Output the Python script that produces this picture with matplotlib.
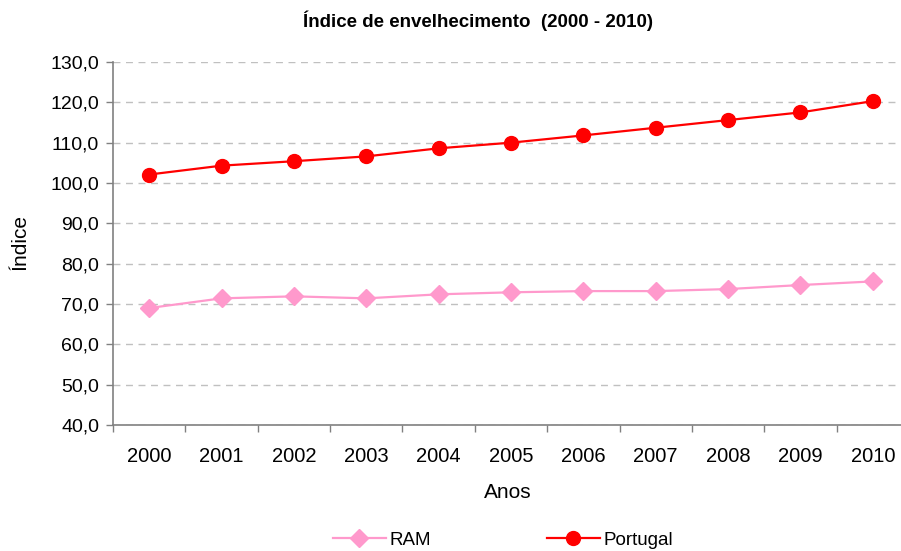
import matplotlib
matplotlib.use("Agg")
import matplotlib.pyplot as plt
from matplotlib.ticker import FuncFormatter, FixedLocator
import numpy as np

plt.rcParams['font.family'] = ['Liberation Sans', 'DejaVu Sans']

years = ['2000', '2001', '2002', '2003', '2004', '2005', '2006', '2007', '2008', '2009', '2010']
ram = [69.0, 71.4, 71.9, 71.4, 72.4, 72.9, 73.2, 73.2, 73.7, 74.7, 75.6]
portugal = [102.1, 104.3, 105.4, 106.6, 108.6, 110.0, 111.8, 113.7, 115.6, 117.5, 120.3]

title = 'Índice de envelhecimento  (2000 - 2010)'
xlabel = 'Anos'
ylabel = 'Índice'

W, H = 901, 551
fig = plt.figure(figsize=(W/100, H/100), dpi=100)
left, right, top, bottom = 113, 909, 62, 425
ax = fig.add_axes([left/W, 1-bottom/H, (right-left)/W, (bottom-top)/H])

x = np.arange(len(years))
ax.plot(x, ram, color='#FF99CC', lw=1.6, marker='D', ms=9, label='RAM', clip_on=False)
ax.plot(x, portugal, color='#FF0000', lw=1.6, marker='o', ms=10, label='Portugal', clip_on=False)

ax.set_xlim(-0.5, len(years)-0.5)
ax.set_ylim(40, 130)
ax.set_yticks(np.arange(40, 131, 10))
ax.yaxis.set_major_formatter(FuncFormatter(lambda v, p: f'{v:.1f}'.replace('.', ',')))
ax.set_xticks(x)
ax.set_xticklabels(years)
ax.xaxis.set_minor_locator(FixedLocator(np.arange(-0.5, len(years), 1.0)))
ax.tick_params(axis='x', which='major', length=0, pad=16, labelsize=14.5)
ax.tick_params(axis='x', which='minor', length=5, width=1, color='#808080', direction='out')
ax.tick_params(axis='y', length=5, width=1, color='#808080', direction='out', pad=5, labelsize=14)

ax.grid(axis='y', linestyle=(0, (5, 4)), color='#C0C0C0', lw=1)
for s in ['top', 'right']:
    ax.spines[s].set_visible(False)
for s in ['left', 'bottom']:
    ax.spines[s].set_color('#808080')
    ax.spines[s].set_linewidth(1.2)
ax.set_axisbelow(True)

fig.text(478/W, 1-21/H, title, ha='center', va='center', fontsize=13.5, fontweight='bold')
fig.text(508/W, 1-493/H, xlabel, ha='center', va='center', fontsize=15)
fig.text(20/W, 1-242/H, ylabel, ha='center', va='center', fontsize=15, rotation=90)

leg = fig.legend(loc='center', bbox_to_anchor=(503/W, 1-540/H), ncol=2, frameon=False,
                 fontsize=13.5, handlelength=2.8, columnspacing=6.2, handletextpad=0.2)

fig.savefig('out.png', dpi=100)
